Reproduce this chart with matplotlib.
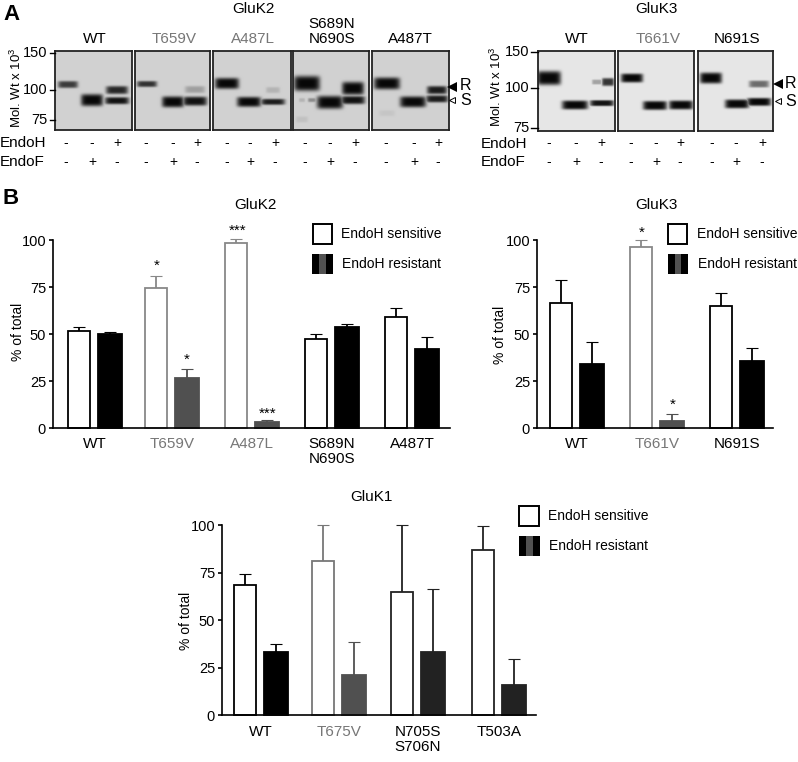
import numpy as np
import matplotlib
matplotlib.use('Agg')
import matplotlib.pyplot as plt
from matplotlib.patches import Rectangle

plt.rcParams['font.family'] = ['Liberation Sans', 'DejaVu Sans']
plt.rcParams['mathtext.default'] = 'regular'

W, H = 798, 762
GREY_TEXT = '#777777'

# bar data: mean and top of the error bar, % of total
k2_labels = ['WT', 'T659V', 'A487L', 'S689N\nN690S', 'A487T']
k2_sens = [51.5, 74.5, 98.5, 47.5, 59]
k2_sens_top = [54, 81, 100.5, 50, 64]
k2_res = [50, 26.5, 3.5, 54, 42]
k2_res_top = [51, 31.5, 4.3, 55.5, 48.5]
k2_res_colors = ['black', '#505050', '#505050', 'black', 'black']
k2_edges = ['black', '#888888', '#888888', 'black', 'black']

k3_labels = ['WT', 'T661V', 'N691S']
k3_sens = [66.5, 96.5, 65]
k3_sens_top = [79, 100, 72]
k3_res = [34, 4, 35.5]
k3_res_top = [46, 7.5, 42.5]
k3_res_colors = ['black', '#505050', 'black']
k3_edges = ['black', '#888888', 'black']

k1_labels = ['WT', 'T675V', 'N705S\nS706N', 'T503A']
k1_sens = [68.5, 81, 65, 87]
k1_sens_top = [74.5, 100, 100, 99.5]
k1_res = [33.5, 21, 33.5, 16]
k1_res_top = [37.5, 38.5, 66.5, 29.5]
k1_res_colors = ['black', '#505050', '#222222', '#222222']
k1_edges = ['black', '#777777', '#222222', '#222222']

# blot bands: x inside panel (px), mol. wt, half width, half height, darkness
k2_wt = [(13, 105.7, 10, 3.5, .75), (37, 90.5, 11, 6, 1), (62, 99.5, 11, 4, .85), (62, 90, 12, 3.5, .95)]
k2_t659v = [(12, 106.3, 10, 3, .8), (38, 89, 11, 5.5, 1), (60, 100, 10, 3.5, .25), (60, 89.6, 12, 4.5, .95)]
k2_a487l = [(14, 107, 12, 5.5, 1), (36, 89, 12, 5, 1), (60, 99.5, 7, 3, .15), (60, 89, 12, 3, .9)]
k2_s689n = [(14, 107, 13, 7.5, 1), (37, 88.6, 13, 6.5, 1), (60, 101.3, 11, 6.5, 1), (60, 90.5, 12, 4, .95),
            (9, 90.5, 3, 2, .15), (19, 90.5, 4, 2, .35), (9, 75.4, 6, 3, .08)]
k2_a487t = [(15, 107, 13, 6, 1), (41, 89, 13, 5.5, 1), (65, 99.5, 10, 4, .9), (65, 91.5, 11, 3.5, .9),
            (15, 80, 8, 3, .06)]
k3_wt = [(11, 111.9, 12, 7, 1), (37, 88.5, 13, 4.5, 1), (59, 107, 5, 2.5, .3), (70, 107, 6, 4, .8), (64, 89.7, 12, 3, .95)]
k3_t661v = [(14, 111.9, 11, 4.5, 1), (37, 88.2, 12, 4.5, 1), (63, 88.5, 12, 4.5, 1)]
k3_n691s = [(13, 111.9, 11, 5.5, 1), (39, 89.2, 12, 4.5, 1), (61, 104.6, 10, 3.5, .55), (61, 90.5, 12, 4, 1)]

k2_blots = [k2_wt, k2_t659v, k2_a487l, k2_s689n, k2_a487t]
k3_blots = [k3_wt, k3_t661v, k3_n691s]
k2_blot_names = ['WT', 'T659V', 'A487L', 'S689N\nN690S', 'A487T']
k3_blot_names = ['WT', 'T661V', 'N691S']
mw_ticks = [150, 100, 75]
endoh_signs = ['-', '-', '+']
endof_signs = ['-', '+', '-']

fig = plt.figure(figsize=(W / 100, H / 100), dpi=100, facecolor='white')


def px_axes(x0, y0, x1, y1):
    return fig.add_axes([x0 / W, 1 - y1 / H, (x1 - x0) / W, (y1 - y0) / H])


over = px_axes(0, 0, W, H)
over.set_xlim(0, W)
over.set_ylim(H, 0)
over.axis('off')
over.set_zorder(5)


def label(x, y, s, size=11, color='black', ha='center', **kw):
    over.text(x, y, s, fontsize=size, color=color, ha=ha, va='center', linespacing=1.1, **kw)


def draw_blot(box, bands, tick_y, bg):
    x0, y0, x1, y1 = box
    ax = px_axes(x0, y0, x1, y1)
    xx, yy = np.meshgrid(np.arange(x1 - x0) + .5, np.arange(y1 - y0) + .5)
    img = np.zeros_like(xx)
    logmw = np.log(mw_ticks)[::-1]
    for bx, mw, hw, hh, dark in bands:
        by = np.interp(np.log(mw), logmw, tick_y[::-1]) - y0
        img = np.maximum(img, dark * np.exp(-((xx - bx) / hw) ** 6 - ((yy - by) / hh) ** 4))
    ax.imshow(bg * (1 - img) + .03 * img, cmap='gray', vmin=0, vmax=1, aspect='auto', interpolation='bicubic')
    ax.set_xticks([])
    ax.set_yticks([])
    for s in ax.spines.values():
        s.set_linewidth(1.3)
        s.set_color('#222222')


def draw_bars(box, labels, centers, sens, sens_top, res, res_top, res_colors, edges, label_y):
    x0, y0, x1, y1 = box
    ax = px_axes(x0, y0, x1, y1)
    ax.set_xlim(x0, x1)
    ax.set_ylim(0, 100)
    ax.patch.set_alpha(0)
    for c, s, st, r, rt, rc, e in zip(centers, sens, sens_top, res, res_top, res_colors, edges):
        for x, v, top, fc, ec in [(c - 16, s, st, 'white', e), (c + 15, r, rt, rc, rc)]:
            ax.bar(x, v, width=22.5 if fc == 'white' else 24, color=fc, edgecolor=ec, linewidth=1.3, clip_on=False, zorder=2)
            _, caps, _ = ax.errorbar(x, v, yerr=[[0], [top - v]], color=ec, elinewidth=1.3, capsize=4,
                                     capthick=.8, clip_on=False, zorder=1)
            for cap in caps:
                cap.set_color('#aaaaaa')
                cap.set_clip_on(False)
    for s in ['top', 'right']:
        ax.spines[s].set_visible(False)
    for s in ['left', 'bottom']:
        ax.spines[s].set_linewidth(1.2)
    ax.set_xticks([])
    ax.set_yticks([0, 25, 50, 75, 100])
    ax.tick_params(axis='y', length=3, width=1.2, pad=2, labelsize=10.5)
    for c, name in zip(centers, labels):
        col = GREY_TEXT if name in ('T659V', 'A487L', 'T661V', 'T675V') else 'black'
        over.text(c, label_y, name, fontsize=11, color=col, ha='center', va='top', linespacing=1.12)


def draw_legend(x0, x1, y0, text_x):
    over.add_patch(Rectangle((x0, y0), x1 - x0, 19.5, fc='white', ec='black', lw=1.4))
    label(text_x, y0 + 10, 'EndoH sensitive', size=10, ha='left')
    stripes = np.array([[0, .32, 0]])
    over.imshow(stripes, cmap='gray', vmin=0, vmax=1, extent=(x0 - .5, x1 + .5, y0 + 50, y0 + 30),
                aspect='auto', interpolation='nearest')
    over.set_xlim(0, W)
    over.set_ylim(H, 0)
    label(text_x + 1, y0 + 40, 'EndoH resistant', size=10, ha='left')


# panel A, GluK2 blots
k2_boxes = [(55, 51, 132, 130), (135, 51, 210, 130), (213, 51, 291, 130), (293, 51, 369, 130), (372, 51, 449, 130)]
k2_tick_y = [53, 89.5, 120]
for box, bands in zip(k2_boxes, k2_blots):
    draw_blot(box, bands, k2_tick_y, .82)
k3_boxes = [(538, 51, 615, 131), (618, 51, 694, 131), (698, 51, 773, 131)]
k3_tick_y = [52, 88, 128]
for box, bands in zip(k3_boxes, k3_blots):
    draw_blot(box, bands, k3_tick_y, .9)

label(3, 15, 'A', size=16, ha='left', fontweight='bold')
label(253, 9, 'GluK2')
label(656, 9, 'GluK3')
k2_name_x = [95, 174, 253, 332, 410]
k3_name_x = [577, 658, 737]
for x, name in zip(k2_name_x + k3_name_x, k2_blot_names + k3_blot_names):
    col = GREY_TEXT if name in ('T659V', 'A487L', 'T661V') else 'black'
    over.text(x, 46, name, fontsize=11, color=col, ha='center', va='bottom', linespacing=1.12)

# mol. wt ticks
for mw, y in zip(mw_ticks, k2_tick_y):
    label(47.5, y, str(mw), ha='right', size=10.5)
    over.plot([50, 55], [y, y], color='black', lw=1)
for mw, y in zip(mw_ticks, k3_tick_y):
    label(529, y, str(mw), ha='right', size=10.5)
    over.plot([531, 538], [y, y], color='black', lw=1)
label(16, 88, 'Mol. Wt x 10$^3$', size=9.5, rotation=90)
label(496, 87, 'Mol. Wt x 10$^3$', size=9.5, rotation=90)

# R / S markers
for tx, rx, ry, sy in [(452, 460, 87, 99.5), (778, 785, 84, 101)]:
    over.plot(tx, ry, marker='<', ms=7, color='black', mew=0)
    over.plot(tx, sy, marker='<', ms=5, mfc='white', mec='black', mew=.7)
    label(rx, ry - 1, 'R', ha='left', size=11.5)
    label(rx, sy + 1, 'S', ha='left', size=11.5)

# +/- rows
k2_sign_x = [66, 92, 117, 146, 173, 197, 227, 250, 275, 305, 330, 355, 386, 414, 438]
k3_sign_x = [549, 576, 601, 631, 656, 680, 712, 736, 762]
label(0, 143, 'EndoH', ha='left')
label(0, 162, 'EndoF', ha='left')
label(481, 144, 'EndoH', ha='left')
label(481, 162, 'EndoF', ha='left')
for xs in (k2_sign_x, k3_sign_x):
    for i, x in enumerate(xs):
        label(x, 143, endoh_signs[i % 3], size=10)
        label(x, 162, endof_signs[i % 3], size=10)

# panel B
label(3, 199, 'B', size=16, ha='left', fontweight='bold')
label(255, 205, 'GluK2')
label(656, 205, 'GluK3')
label(371, 497, 'GluK1')

k2_centers = [95, 172, 252, 332, 412]
k3_centers = [577, 657, 737]
k1_centers = [261, 339, 418, 499]
draw_bars((53, 240, 450, 428.3), k2_labels, k2_centers, k2_sens, k2_sens_top, k2_res, k2_res_top,
          k2_res_colors, k2_edges, 437)
draw_bars((537, 240, 773, 428.3), k3_labels, k3_centers, k3_sens, k3_sens_top, k3_res, k3_res_top,
          k3_res_colors, k3_edges, 437)
draw_bars((222, 525.3, 536, 715.3), k1_labels, k1_centers, k1_sens, k1_sens_top, k1_res, k1_res_top,
          k1_res_colors, k1_edges, 725)

label(18, 332, '% of total', size=10, rotation=90)
label(500, 335, '% of total', size=10, rotation=90)
label(186, 621, '% of total', size=10, rotation=90)

draw_legend(312.7, 332, 224, 341)
draw_legend(668, 687, 224, 697)
draw_legend(519, 539, 506, 548)

# significance stars
for x, y, s in [(157, 266, '*'), (187, 360, '*'), (238, 231, '***'), (268, 414, '***'), (642, 233, '*'), (673, 405, '*')]:
    label(x, y, s, size=11)

fig.savefig('out.png', dpi=100)
